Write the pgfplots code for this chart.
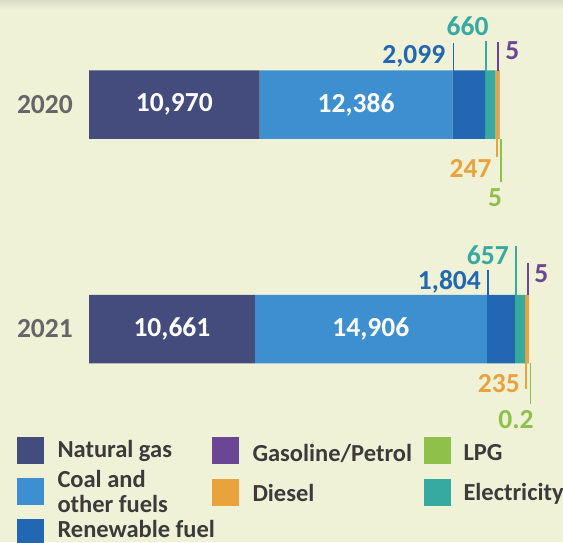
\documentclass[border=0pt]{standalone}
\usepackage{pgfplots}
\pgfplotsset{compat=1.18}
\usepackage{fontspec}
\setmainfont{Carlito}
\definecolor{bg}{HTML}{EFF2D6}
\definecolor{bgtop}{HTML}{D8DBC6}
\definecolor{cNG}{HTML}{434C7D}
\definecolor{cCoal}{HTML}{3D8FD0}
\definecolor{cRen}{HTML}{2267B1}
\definecolor{cElec}{HTML}{36A9A1}
\definecolor{cDie}{HTML}{EAA23C}
\definecolor{cGas}{HTML}{6B4697}
\definecolor{cLPG}{HTML}{8FC04A}
\definecolor{cYear}{HTML}{666666}
\definecolor{cTxt}{HTML}{3B3B3B}
\newcommand{\numfont}{\bfseries\fontsize{27.5}{30}\selectfont}
\newcommand{\legfont}{\bfseries\fontsize{24.5}{26}\selectfont}
\begin{document}
\begin{tikzpicture}
\fill[bg] (0pt,0pt) rectangle (563pt,-542pt);
\shade[top color=bgtop, bottom color=bg] (0pt,0pt) rectangle (563pt,-9pt);
\useasboundingbox (0pt,0pt) rectangle (563pt,-542pt);
\begin{axis}[
  at={(89pt,-329pt)}, anchor=origin,
  x=0.01556pt, y=224.5pt,
  xmin=0, xmax=30000, ymin=-0.6, ymax=1.6,
  hide axis, clip=false,
  xbar stacked, bar width=68.5pt,
]
\addplot[fill=cNG, draw=none] coordinates {(10661,0) (10970,1)};
\addplot[fill=cCoal, draw=none] coordinates {(14906,0) (12386,1)};
\addplot[fill=cRen, draw=none] coordinates {(1804,0) (2099,1)};
\addplot[fill=cElec, draw=none] coordinates {(657,0) (660,1)};
\addplot[fill=cDie, draw=none] coordinates {(235,0) (247,1)};
\addplot[fill=cGas, draw=none] coordinates {(5,0) (5,1)};
\addplot[fill=cLPG, draw=none] coordinates {(0.2,0) (5,1)};

\coordinate (y20) at (axis cs:0,1);
\coordinate (y21) at (axis cs:0,0);
\coordinate (ng20) at (axis cs:5485,1);
\coordinate (co20) at (axis cs:17163,1);
\coordinate (ng21) at (axis cs:5330.5,0);
\coordinate (co21) at (axis cs:18114,0);
\coordinate (re20) at (axis cs:23356,1);
\coordinate (el20) at (axis cs:25455,1);
\coordinate (di20) at (axis cs:26238,1);
\coordinate (en20) at (axis cs:26372,1);
\coordinate (re21) at (axis cs:25567,0);
\coordinate (el21) at (axis cs:27371,0);
\coordinate (di21) at (axis cs:28145,0);
\coordinate (en21) at (axis cs:28268.2,0);
\end{axis}

% year labels
\node[anchor=east, xshift=-16pt, inner sep=0pt, text=cYear, font=\numfont] at (y20) {2020};
\node[anchor=east, xshift=-16pt, inner sep=0pt, text=cYear, font=\numfont] at (y21) {2021};

% in-bar labels
\node[text=white, font=\numfont] at (ng20) {10,970};
\node[text=white, font=\numfont] at (co20) {12,386};
\node[text=white, font=\numfont] at (ng21) {10,661};
\node[text=white, font=\numfont] at (co21) {14,906};

% ---- 2020 callouts ----
\draw[cRen, line width=1.8pt] (re20) ++(1pt,34pt) -- ++(0pt,28pt);
\node[anchor=base east, text=cRen, font=\numfont, inner sep=0pt] at (re20) [xshift=-7pt, yshift=40.8pt] {2,099};
\draw[cElec, line width=1.8pt] (el20) ++(1pt,34pt) -- ++(0pt,29.5pt);
\node[anchor=base, text=cElec, font=\numfont, inner sep=0pt] at (el20) [xshift=-17.5pt, yshift=69.1pt] {660};
\draw[cGas, line width=1.8pt] (en20) ++(-1pt,34pt) -- ++(0pt,28.8pt);
\node[anchor=base west, text=cGas, font=\numfont, inner sep=0pt] at (en20) [xshift=5.7pt, yshift=45pt] {5};
\draw[cDie, line width=1.8pt] (di20) ++(0pt,-34pt) -- ++(0pt,-18pt);
\node[anchor=base east, text=cDie, font=\numfont, inner sep=0pt] at (en20) [xshift=-7.6pt, yshift=-73.2pt] {247};
\draw[cLPG, line width=1.8pt] (en20) ++(1.3pt,-34pt) -- ++(0pt,-43pt);
\node[anchor=base, text=cLPG, font=\numfont, inner sep=0pt] at (en20) [xshift=-4.3pt, yshift=-102.2pt] {5};

% ---- 2021 callouts ----
\draw[cRen, line width=1.8pt] (re21) ++(1.5pt,34pt) -- ++(0pt,25pt);
\node[anchor=base east, text=cRen, font=\numfont, inner sep=0pt] at (re21) [xshift=-5.8pt, yshift=39.3pt] {1,804};
\draw[cElec, line width=1.8pt] (el21) ++(1.4pt,34pt) -- ++(0pt,49.3pt);
\node[anchor=base east, text=cElec, font=\numfont, inner sep=0pt] at (el21) [xshift=-5.9pt, yshift=64.8pt] {657};
\draw[cGas, line width=1.8pt] (en21) ++(-0.6pt,34pt) -- ++(0pt,31.7pt);
\node[anchor=base west, text=cGas, font=\numfont, inner sep=0pt] at (en21) [xshift=5.4pt, yshift=46.3pt] {5};
\draw[cDie, line width=1.8pt] (di21) ++(-1pt,-34pt) -- ++(0pt,-26.3pt);
\node[anchor=base east, text=cDie, font=\numfont, inner sep=0pt] at (en21) [xshift=-8.9pt, yshift=-63.7pt] {235};
\draw[cLPG, line width=1.8pt] (en21) ++(1.6pt,-34pt) -- ++(0pt,-41pt);
\node[anchor=base, text=cLPG, font=\numfont, inner sep=0pt] at (en21) [xshift=-12.9pt, yshift=-99.7pt] {0.2};

% legend
\fill[cNG]   (17.3pt,-437.3pt) rectangle (44.3pt,-463.7pt);
\fill[cCoal] (17.3pt,-478.3pt) rectangle (44.3pt,-505pt);
\fill[cRen]  (17.3pt,-519.3pt) rectangle (44.3pt,-545pt);
\fill[cGas]  (211.7pt,-437.3pt) rectangle (238.7pt,-463.7pt);
\fill[cDie]  (211.7pt,-479pt) rectangle (238.7pt,-505.7pt);
\fill[cLPG]  (423.7pt,-437.3pt) rectangle (450.7pt,-463.7pt);
\fill[cElec] (423.7pt,-479pt) rectangle (450.7pt,-505.7pt);
\node[anchor=base west, inner sep=0pt, text=cTxt, font=\legfont] at (57.3pt,-457.3pt) {Natural gas};
\node[anchor=base west, inner sep=0pt, text=cTxt, font=\legfont] at (57.3pt,-487.3pt) {Coal and};
\node[anchor=base west, inner sep=0pt, text=cTxt, font=\legfont] at (57.3pt,-512.3pt) {other fuels};
\node[anchor=base west, inner sep=0pt, text=cTxt, font=\legfont] at (57.3pt,-537.5pt) {Renewable fuel};
\node[anchor=base west, inner sep=0pt, text=cTxt, font=\legfont] at (252.3pt,-461pt) {Gasoline/Petrol};
\node[anchor=base west, inner sep=0pt, text=cTxt, font=\legfont] at (252.3pt,-501.7pt) {Diesel};
\node[anchor=base west, inner sep=0pt, text=cTxt, font=\legfont] at (463.3pt,-460pt) {LPG};
\node[anchor=base west, inner sep=0pt, text=cTxt, font=\legfont] at (463.3pt,-500pt) {Electricity};
\end{tikzpicture}
\end{document}
